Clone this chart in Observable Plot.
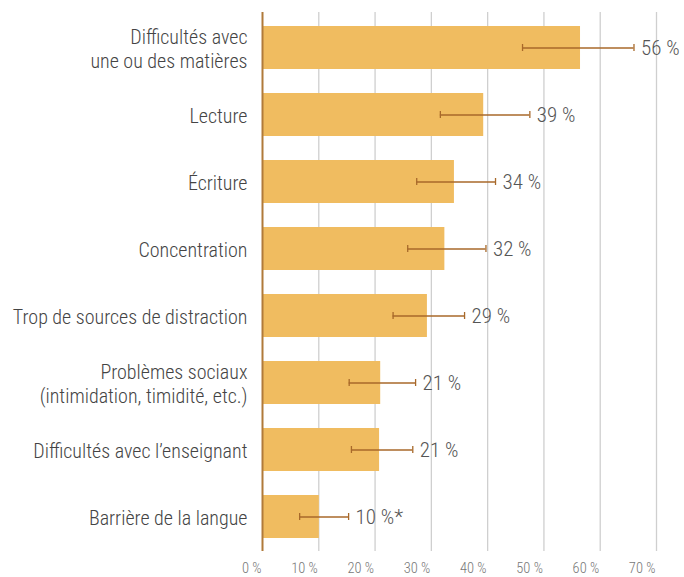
<!DOCTYPE html>
<html><head><meta charset="utf-8">
<script src="https://cdn.jsdelivr.net/npm/d3@7"></script>
<script src="https://cdn.jsdelivr.net/npm/@observablehq/plot@0.6"></script>
<style>body{margin:0;background:#fff}</style>
</head><body><div id="chart"></div>
<script>
const categories = ["Difficultés avec\nune ou des matières","Lecture","Écriture","Concentration","Trop de sources de distraction","Problèmes sociaux\n(intimidation, timidité, etc.)","Difficultés avec l’enseignant","Barrière de la langue"];
const values = [56.5, 39.3, 34.1, 32.4, 29.3, 21.0, 20.8, 10.1];
const lower = [46.2, 31.6, 27.4, 25.8, 23.2, 15.4, 15.8, 6.6];
const upper = [66.0, 47.5, 41.4, 39.7, 35.9, 27.2, 26.7, 15.3];
const labels = ["56 %","39 %","34 %","32 %","29 %","21 %","21 %","10 %*"];
const xTicks = [0,10,20,30,40,50,60,70];

const data = categories.map((c,i)=>({cat:c, value:values[i], lo:lower[i], hi:upper[i], label:labels[i]}));
const font = '"Roboto Condensed","Liberation Sans Narrow","DejaVu Sans Condensed",sans-serif';

const chart = Plot.plot({
  width: 684, height: 577,
  marginLeft: 262, marginRight: 28, marginTop: 12, marginBottom: 26,
  style: {fontFamily: font, background: "#fff"},
  x: {domain: [0,70], axis: null},
  y: {domain: categories, paddingInner: 0.36, paddingOuter: 0.18, axis: null},
  marks: [
    Plot.ruleX(xTicks.slice(1), {stroke: "#cfcfcf", strokeWidth: 1.3}),
    Plot.barX(data, {x: "value", y: "cat", fill: "#F0BC60"}),
    Plot.ruleY(data, {y: "cat", x1: "lo", x2: "hi", stroke: "#A8692A", strokeWidth: 1.3}),
    Plot.tickX(data, {x: "lo", y: "cat", stroke: "#A8692A", strokeWidth: 1.3, insetTop: 18, insetBottom: 18}),
    Plot.tickX(data, {x: "hi", y: "cat", stroke: "#A8692A", strokeWidth: 1.3, insetTop: 18, insetBottom: 18}),
    Plot.ruleX([0], {stroke: "#B07A3A", strokeWidth: 2}),
    Plot.text(data, {x: "hi", y: "cat", text: "label", dx: 7, textAnchor: "start", fontSize: 21, fontWeight: 300, fill: "#555"}),
    Plot.axisY({tickSize: 0, tickPadding: 15, fontSize: 20, fontWeight: 300, lineHeight: 1.2, color: "#444", label: null}),
    Plot.axisX(xTicks, {tickSize: 0, tickPadding: 11, fontSize: 14.5, fontWeight: 300, color: "#777", textAnchor: "end", dx: -1, tickFormat: d => d + " %", label: null})
  ]
});
document.getElementById("chart").appendChild(chart);
</script>
</body></html>
